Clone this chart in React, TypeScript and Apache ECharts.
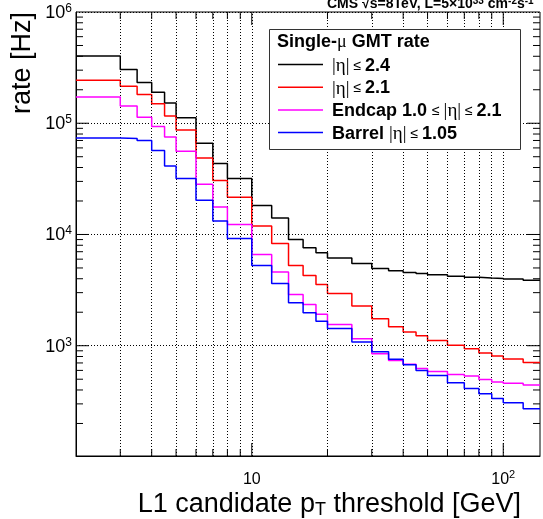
import React, { useEffect, useRef } from "react";
import * as echarts from "echarts";

// L1 pT threshold bin edges [GeV]
const binEdges = [2, 3, 3.5, 4, 4.5, 5, 6, 7, 8, 10, 12, 14, 16, 18, 20, 25, 30, 35, 40, 45, 50, 60, 70, 80, 90, 100, 120, 140];

// rates [Hz] per bin
const rateEta24 = [4.02e5, 3.04e5, 2.32e5, 1.9e5, 1.52e5, 1.12e5, 6.6e4, 4.34e4, 3.19e4, 1.82e4, 1.41e4, 9.0e3, 7.58e3, 6.84e3, 6.16e3, 5.49e3, 4.95e3, 4.71e3, 4.55e3, 4.46e3, 4.34e3, 4.22e3, 4.13e3, 4.07e3, 4.03e3, 3.97e3, 3.88e3];
const rateEta21 = [2.43e5, 2.15e5, 1.81e5, 1.5e5, 1.16e5, 8.7e4, 4.88e4, 3.05e4, 2.16e4, 1.19e4, 8.3e3, 5.26e3, 4.28e3, 3.55e3, 2.95e3, 2.27e3, 1745, 1480, 1330, 1230, 1116, 1010, 938, 858, 807, 759, 708];
const rateEndcap = [1.72e5, 1.43e5, 1.13e5, 9.34e4, 7.53e4, 5.6e4, 2.83e4, 1.77e4, 1.23e4, 6.6e3, 4.61e3, 2.89e3, 2.35e3, 1.92e3, 1.55e3, 1153, 845, 738, 681, 625, 587, 552, 533, 498, 471, 461, 443];
const rateBarrel = [7.38e4, 7.3e4, 6.99e4, 5.69e4, 4.13e4, 3.19e4, 2.03e4, 1.32e4, 9.2e3, 5.26e3, 3.63e3, 2.43e3, 1.98e3, 1.66e3, 1.43e3, 1080, 883, 754, 674, 600, 541, 464, 413, 370, 336, 307, 271];

const seriesNames = ["eta24", "eta21", "endcap", "barrel"];
const seriesColors = ["#000000", "#ff0000", "#ff00ff", "#0000ff"];
const seriesValues = [rateEta24, rateEta21, rateEndcap, rateBarrel];

// axis ranges and tick positions
const xMin = 2;
const xMax = 140;
const yMin = 102;
const yMax = 1e6;
const xGridValues = [3, 4, 5, 6, 7, 8, 9, 10, 20, 30, 40, 50, 60, 70, 80, 90, 100];
const xMajorTicks = [10, 100];
const xMinorTicks = [3, 4, 5, 6, 7, 8, 9, 20, 30, 40, 50, 60, 70, 80, 90];
const yMajorTicks = [1e3, 1e4, 1e5];
const yMinorTicks = [
  200, 300, 400, 500, 600, 700, 800, 900,
  2000, 3000, 4000, 5000, 6000, 7000, 8000, 9000,
  2e4, 3e4, 4e4, 5e4, 6e4, 7e4, 8e4, 9e4,
  2e5, 3e5, 4e5, 5e5, 6e5, 7e5, 8e5, 9e5,
];

const SANS = "'Liberation Sans', Arial, Helvetica, sans-serif";
const SERIF = "'Liberation Serif', 'Times New Roman', serif";

const legendLabels: Record<string, string> = {
  eta24: "{e||η|}{le| ≤ }{b|2.4}",
  eta21: "{e||η|}{le| ≤ }{b|2.1}",
  endcap: "{b|Endcap 1.0 }{le|≤ }{e||η|}{le| ≤ }{b|2.1}",
  barrel: "{b|Barrel }{e||η|}{le| ≤ }{b|1.05}",
};

function isPow10(v: number) {
  const l = Math.log10(v);
  return Math.abs(l - Math.round(l)) < 1e-6;
}

export default function App() {
  const ref = useRef<HTMLDivElement>(null);
  useEffect(() => {
    if (!ref.current) return;
    const chart = echarts.init(ref.current, undefined, { renderer: "svg" });

    const lineSeries = seriesNames.map((name, k) => ({
      name,
      type: "line",
      step: "end",
      symbol: "none",
      z: 3 + k,
      color: seriesColors[k],
      itemStyle: { color: seriesColors[k] },
      lineStyle: { color: seriesColors[k], width: 1.5 },
      data: binEdges.map((x, i) => [x, seriesValues[k][Math.min(i, seriesValues[k].length - 1)]]),
    }));

    const dotted = { color: "#000", width: 1, type: [1, 2] as number[] };

    const option: any = {
      animation: false,
      textStyle: { fontFamily: SANS },
      grid: { left: 76, right: 1, top: 12, bottom: 63, show: true, borderColor: "#000", borderWidth: 1, backgroundColor: "transparent" },
      xAxis: {
        type: "log",
        logBase: 10,
        min: xMin,
        max: xMax,
        axisLine: { show: true, lineStyle: { color: "#000", width: 1 } },
        axisTick: { show: false },
        splitLine: { show: false },
        axisLabel: {
          margin: 12,
          formatter: (v: number) => {
            if (!isPow10(v)) return "";
            const e = Math.round(Math.log10(v));
            return e === 1 ? "{b|10}" : "{b|10}{s|" + e + "}";
          },
          rich: {
            b: { fontSize: 16, lineHeight: 20, color: "#000", fontFamily: SANS },
            s: { fontSize: 11, lineHeight: 11, verticalAlign: "top", color: "#000", fontFamily: SANS },
          },
        },
      },
      yAxis: {
        type: "log",
        logBase: 10,
        min: yMin,
        max: yMax,
        axisLine: { show: true, lineStyle: { color: "#000", width: 1 } },
        axisTick: { show: false },
        splitLine: { show: true, lineStyle: dotted },
        axisLabel: {
          margin: 4,
          formatter: (v: number) => {
            if (!isPow10(v)) return "";
            const e = Math.round(Math.log10(v));
            return "{b|10}{s|" + e + "}";
          },
          rich: {
            b: { fontSize: 18, lineHeight: 20, color: "#000", fontFamily: SANS },
            s: { fontSize: 12, lineHeight: 12, verticalAlign: "top", color: "#000", fontFamily: SANS },
          },
        },
      },
      legend: {
        data: seriesNames,
        orient: "vertical",
        left: 278,
        top: 55,
        padding: 0,
        itemWidth: 45,
        itemHeight: 1.5,
        itemGap: 3.7,
        icon: "rect",
        z: 20,
        selectedMode: false,
        formatter: (name: string) => legendLabels[name],
        textStyle: {
          padding: [0, 0, 0, 4],
          rich: {
            b: { fontFamily: SANS, fontWeight: "bold", fontSize: 18, lineHeight: 20, color: "#000" },
            e: { fontFamily: SERIF, fontSize: 19, lineHeight: 20, color: "#000" },
            le: { fontFamily: SANS, fontSize: 14, lineHeight: 20, color: "#000" },
          },
        },
      },
      graphic: [
        {
          type: "rect",
          z: 10,
          shape: { x: 269.5, y: 29.5, width: 251, height: 120 },
          style: { fill: "#fff", stroke: "#333", lineWidth: 1 },
        },
        {
          type: "text",
          z: 11,
          x: 277,
          y: 41,
          style: {
            text: "{b|Single-}{m|μ}{b| GMT rate}",
            verticalAlign: "middle",
            rich: {
              b: { fontFamily: SANS, fontWeight: "bold", fontSize: 18, lineHeight: 20, fill: "#000" },
              m: { fontFamily: SERIF, fontSize: 18, lineHeight: 20, fill: "#000" },
            },
          },
        },
        {
          type: "text",
          z: 11,
          x: 327,
          y: 3,
          style: {
            text: "{b|CMS √s=8TeV, L=5×10}{s|33}{b| cm}{s|-2}{b|s}{s|-1}",
            verticalAlign: "middle",
            rich: {
              b: { fontFamily: SANS, fontWeight: "bold", fontSize: 14, lineHeight: 16, fill: "#000" },
              s: { fontFamily: SANS, fontWeight: "bold", fontSize: 10, lineHeight: 10, verticalAlign: "top", fill: "#000" },
            },
          },
        },
        {
          type: "text",
          z: 11,
          x: 521,
          y: 503,
          style: {
            text: "{a|L1 candidate p}{t|T}{a| threshold [GeV]}",
            align: "right",
            verticalAlign: "middle",
            rich: {
              a: { fontFamily: SANS, fontSize: 27, lineHeight: 30, fill: "#000" },
              t: { fontFamily: SANS, fontSize: 18, lineHeight: 10, verticalAlign: "bottom", fill: "#000" },
            },
          },
        },
        {
          type: "text",
          z: 11,
          x: 21,
          y: 12,
          rotation: Math.PI / 2,
          style: {
            text: "rate [Hz]",
            fontFamily: SANS,
            fontSize: 27,
            align: "right",
            verticalAlign: "middle",
            fill: "#000",
          },
        },
      ],
      series: [
        {
          name: "grid",
          type: "line",
          symbol: "none",
          z: 1,
          silent: true,
          lineStyle: { opacity: 0 },
          data: [[10, 1000]],
          markLine: {
            silent: true,
            symbol: ["none", "none"],
            label: { show: false },
            lineStyle: dotted,
            emphasis: { disabled: true },
            data: xGridValues.map((v) => ({ xAxis: v })),
          },
        },
        {
          name: "ticks",
          type: "custom",
          z: 2,
          silent: true,
          data: [[10, 1000]],
          renderItem: (params: any, api: any) => {
            const cs = params.coordSys;
            const x0 = cs.x;
            const x1 = cs.x + cs.width;
            const y0 = cs.y;
            const y1 = cs.y + cs.height;
            const children: any[] = [];
            const seg = (a: number, b: number, c: number, d: number) => ({
              type: "line",
              shape: { x1: a, y1: b, x2: c, y2: d },
              style: { stroke: "#000", lineWidth: 1 },
            });
            yMinorTicks.forEach((v) => {
              const y = api.coord([10, v])[1];
              children.push(seg(x0, y, x0 + 7, y), seg(x1 - 7, y, x1, y));
            });
            yMajorTicks.forEach((v) => {
              const y = api.coord([10, v])[1];
              children.push(seg(x0, y, x0 + 13, y), seg(x1 - 13, y, x1, y));
            });
            xMinorTicks.forEach((v) => {
              const x = api.coord([v, 1000])[0];
              children.push(seg(x, y1, x, y1 - 7), seg(x, y0, x, y0 + 7));
            });
            xMajorTicks.forEach((v) => {
              const x = api.coord([v, 1000])[0];
              children.push(seg(x, y1, x, y1 - 13), seg(x, y0, x, y0 + 13));
            });
            return { type: "group", children };
          },
        },
        ...lineSeries,
      ],
    };

    chart.setOption(option);
    return () => chart.dispose();
  }, []);

  return <div ref={ref} style={{ position: "fixed", left: 0, top: 0, width: 543, height: 519 }} />;
}
